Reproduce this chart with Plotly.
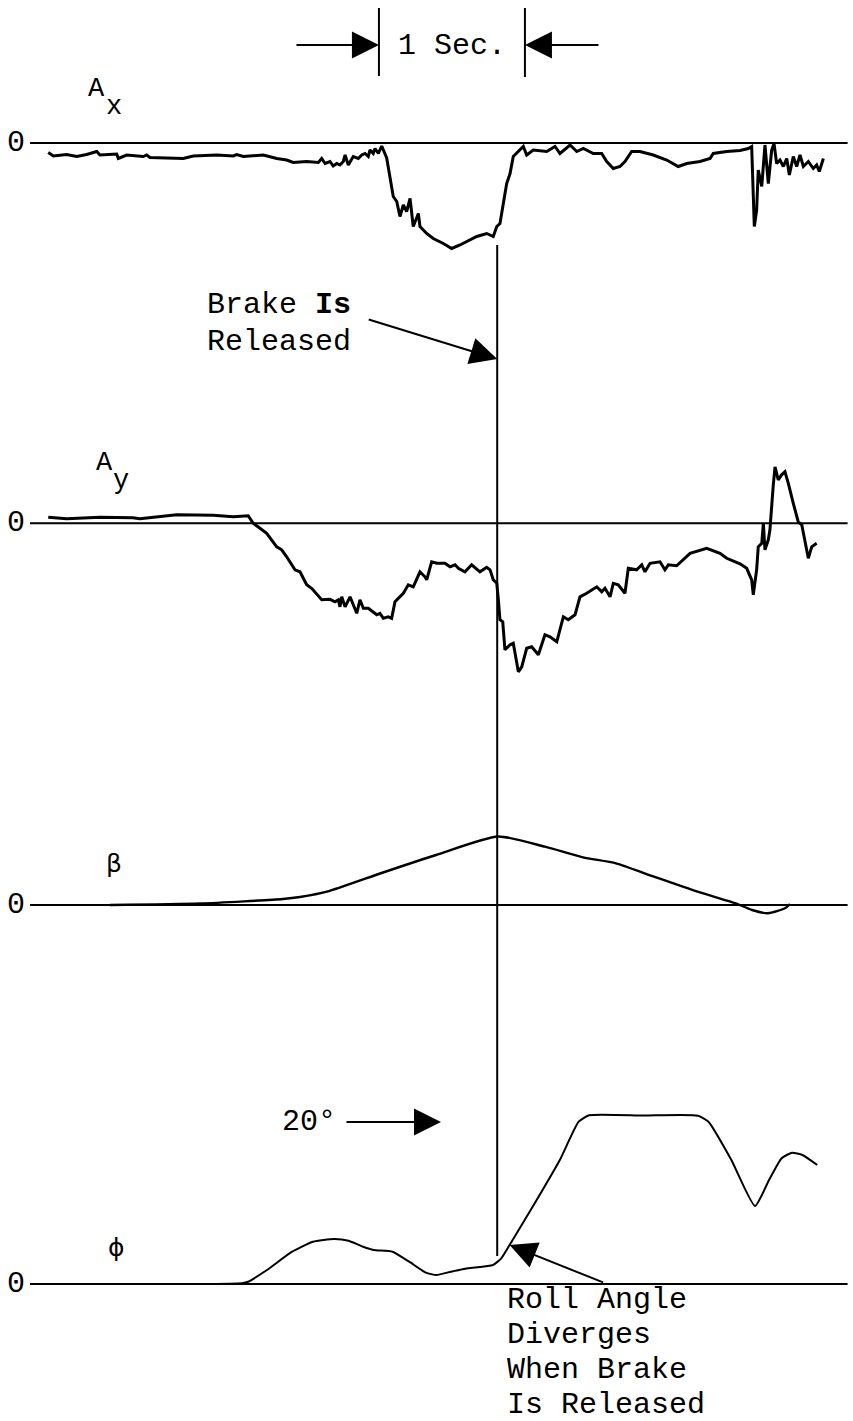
import plotly.graph_objects as go

# ---------------------------------------------------------------------------
# Recorded channels (time in seconds)
# ---------------------------------------------------------------------------
# Longitudinal acceleration A_x (g)
AX_T = [0.125, 0.160, 0.251, 0.320, 0.388, 0.457, 0.479, 0.594, 0.605, 0.662,
        0.776, 0.799, 0.822, 1.050, 1.118, 1.279, 1.392, 1.416, 1.461, 1.598,
        1.690, 1.758, 1.803, 1.895, 1.975, 1.998, 2.021, 2.055, 2.077, 2.101,
        2.123, 2.146, 2.158, 2.180, 2.214, 2.249, 2.272, 2.295, 2.317, 2.329,
        2.351, 2.363, 2.386, 2.409, 2.443, 2.488, 2.512, 2.534, 2.557, 2.580,
        2.603, 2.625, 2.660, 2.671, 2.717, 2.762, 2.831, 2.888, 2.945, 3.014,
        3.060, 3.128, 3.173, 3.197, 3.219, 3.242, 3.265, 3.288, 3.310, 3.379,
        3.402, 3.447, 3.539, 3.596, 3.630, 3.699, 3.745, 3.790, 3.858, 3.916,
        3.950, 3.995, 4.041, 4.075, 4.121, 4.178, 4.269, 4.361, 4.440, 4.498,
        4.589, 4.658, 4.680, 4.772, 4.863, 4.920, 4.943, 4.961, 4.977, 4.988,
        5.012, 5.034, 5.057, 5.080, 5.096, 5.114, 5.137, 5.160, 5.183, 5.201,
        5.228, 5.251, 5.274, 5.297, 5.331, 5.365, 5.388, 5.406, 5.434]
AX_G = [-0.019, -0.026, -0.023, -0.027, -0.023, -0.017, -0.024, -0.022, -0.031, -0.024,
        -0.027, -0.024, -0.029, -0.031, -0.026, -0.024, -0.026, -0.023, -0.027, -0.024,
        -0.031, -0.034, -0.039, -0.037, -0.039, -0.031, -0.041, -0.037, -0.046, -0.041,
        -0.044, -0.037, -0.024, -0.044, -0.027, -0.031, -0.024, -0.021, -0.027, -0.014,
        -0.021, -0.011, -0.021, -0.006, -0.030, -0.107, -0.117, -0.147, -0.124, -0.137,
        -0.111, -0.167, -0.141, -0.167, -0.181, -0.191, -0.201, -0.211, -0.204, -0.194,
        -0.187, -0.181, -0.187, -0.167, -0.161, -0.121, -0.081, -0.061, -0.027, -0.007,
        -0.024, -0.014, -0.017, -0.007, -0.021, -0.004, -0.017, -0.011, -0.021, -0.021,
        -0.037, -0.051, -0.047, -0.037, -0.017, -0.017, -0.024, -0.034, -0.047, -0.041,
        -0.037, -0.031, -0.021, -0.017, -0.015, -0.011, -0.007, -0.167, -0.134, -0.054,
        -0.087, -0.004, -0.081, -0.014, -0.001, -0.041, -0.034, -0.047, -0.031, -0.064,
        -0.027, -0.047, -0.024, -0.047, -0.037, -0.051, -0.044, -0.057, -0.031]

# Lateral acceleration A_y (g)
AY_T = [0.125, 0.251, 0.479, 0.705, 0.753, 1.005, 1.255, 1.392, 1.495, 1.529,
        1.575, 1.621, 1.690, 1.724, 1.758, 1.815, 1.849, 1.895, 1.929, 1.998,
        2.055, 2.089, 2.112, 2.123, 2.135, 2.158, 2.192, 2.238, 2.260, 2.283,
        2.317, 2.375, 2.397, 2.420, 2.454, 2.477, 2.500, 2.557, 2.591, 2.625,
        2.671, 2.705, 2.717, 2.751, 2.786, 2.842, 2.877, 2.911, 2.934, 2.979,
        3.025, 3.082, 3.128, 3.151, 3.173, 3.197, 3.208, 3.219, 3.238, 3.253,
        3.288, 3.310, 3.345, 3.368, 3.402, 3.436, 3.482, 3.527, 3.562, 3.608,
        3.653, 3.687, 3.733, 3.767, 3.813, 3.882, 3.916, 3.938, 3.973, 3.995,
        4.029, 4.075, 4.098, 4.155, 4.190, 4.212, 4.247, 4.315, 4.349, 4.372,
        4.429, 4.521, 4.635, 4.726, 4.772, 4.863, 4.909, 4.943, 4.954, 4.977,
        4.988, 5.012, 5.023, 5.034, 5.057, 5.068, 5.091, 5.103, 5.125, 5.148,
        5.171, 5.194, 5.228, 5.262, 5.286, 5.331, 5.354, 5.388]
AY_G = [0.012, 0.009, 0.012, 0.011, 0.009, 0.017, 0.016, 0.013, 0.015, 0.000,
        -0.010, -0.020, -0.047, -0.053, -0.067, -0.093, -0.097, -0.123, -0.130, -0.153,
        -0.152, -0.157, -0.153, -0.167, -0.147, -0.167, -0.147, -0.180, -0.153, -0.170,
        -0.170, -0.183, -0.180, -0.190, -0.187, -0.190, -0.157, -0.140, -0.123, -0.127,
        -0.097, -0.107, -0.113, -0.077, -0.080, -0.080, -0.087, -0.083, -0.090, -0.097,
        -0.083, -0.097, -0.088, -0.093, -0.113, -0.120, -0.153, -0.193, -0.197, -0.253,
        -0.243, -0.240, -0.297, -0.287, -0.250, -0.247, -0.263, -0.223, -0.227, -0.237,
        -0.187, -0.193, -0.183, -0.147, -0.140, -0.127, -0.137, -0.130, -0.147, -0.120,
        -0.123, -0.140, -0.090, -0.093, -0.083, -0.097, -0.080, -0.077, -0.093, -0.083,
        -0.085, -0.060, -0.050, -0.060, -0.070, -0.081, -0.090, -0.113, -0.143, -0.093,
        -0.047, -0.040, 0.000, -0.053, -0.033, -0.013, 0.077, 0.113, 0.087, 0.097,
        0.103, 0.080, 0.040, 0.003, -0.003, -0.070, -0.047, -0.040]

# Sideslip angle beta (deg)
BETA_T = [0.548, 1.164, 1.733, 1.849, 2.034, 2.408, 2.781, 3.205, 3.527, 3.788,
          4.014, 4.274, 4.572, 4.834, 4.945, 5.055, 5.171, 5.205]
BETA_DEG = [0.0, 0.15, 0.6, 0.8, 1.33, 3.2, 5.0, 6.85, 5.83, 4.77,
            4.17, 2.83, 1.33, 0.17, -0.5, -0.83, -0.33, 0.1]

# Roll angle phi (deg)
PHI_T = [1.164, 1.451, 1.494, 1.623, 1.795, 1.938, 2.082, 2.182, 2.282, 2.353,
         2.483, 2.597, 2.712, 2.784, 2.884, 2.999, 3.171, 3.228, 3.285, 3.457,
         3.629, 3.758, 3.829, 4.200, 4.575, 4.647, 4.804, 4.966, 5.062, 5.148,
         5.219, 5.291, 5.392]
PHI_DEG = [0.0, 0.1, 0.28, 1.73, 3.99, 5.22, 5.56, 5.35, 4.60, 4.20,
           3.99, 2.75, 1.40, 1.11, 1.52, 1.94, 2.35, 3.17, 4.81, 9.96,
           15.31, 20.04, 20.83, 20.80, 20.78, 20.04, 15.31, 9.63, 12.84, 15.52,
           16.21, 15.93, 14.69]

BRAKE_RELEASE_S = 3.20      # moment the brake is let go
SCALE_BAR_START_S = 2.39    # left edge of the 1-second scale bar
ROLL_REF_DEG = 20           # roll reference arrow level
ZERO_LINE_T = [0.0, 5.6]    # extent of each channel's zero line

# ---------------------------------------------------------------------------
# Page geometry
# ---------------------------------------------------------------------------
W, H = 853, 1421
PX_PER_S = 146
T0_PX = 30

# zero-line row (px from top) and pixels per engineering unit for each strip
STRIPS = {
    "ax": (143.0, 500.0),
    "ay": (523.3, 500.0),
    "beta": (905.0, 10.0),
    "phi": (1284.0, 8.1),
}


def yrange(zero_px, px_per_unit):
    return [-(H - zero_px) / px_per_unit, zero_px / px_per_unit]


def py(row):
    """Pixel row (from top) to paper fraction."""
    return 1 - row / H


def px_t(col):
    """Pixel column to time on the x axis."""
    return (col - T0_PX) / PX_PER_S


FONT = "Liberation Mono"
INK = "black"

fig = go.Figure()

axis_ids = {"ax": "y", "ay": "y2", "beta": "y3", "phi": "y4"}

# zero lines
for key, yid in axis_ids.items():
    fig.add_trace(go.Scatter(x=ZERO_LINE_T, y=[0, 0], mode="lines", yaxis=yid,
                             line=dict(color=INK, width=2), hoverinfo="skip"))

fig.add_trace(go.Scatter(x=AX_T, y=AX_G, mode="lines", yaxis="y",
                         line=dict(color=INK, width=3), name="A_x"))
fig.add_trace(go.Scatter(x=AY_T, y=AY_G, mode="lines", yaxis="y2",
                         line=dict(color=INK, width=3), name="A_y"))
fig.add_trace(go.Scatter(x=BETA_T, y=BETA_DEG, mode="lines", yaxis="y3",
                         line=dict(color=INK, width=2.4, shape="spline", smoothing=0.6),
                         name="beta"))
fig.add_trace(go.Scatter(x=PHI_T, y=PHI_DEG, mode="lines", yaxis="y4",
                         line=dict(color=INK, width=2.0, shape="spline", smoothing=0.5),
                         name="phi"))

shapes = [
    # brake release marker
    dict(type="line", xref="x", yref="paper", x0=BRAKE_RELEASE_S, x1=BRAKE_RELEASE_S,
         y0=py(1256), y1=py(245), line=dict(color=INK, width=2)),
    # 1-second scale bar ends
    dict(type="line", xref="x", yref="paper", x0=SCALE_BAR_START_S, x1=SCALE_BAR_START_S,
         y0=py(76), y1=py(8), line=dict(color=INK, width=2)),
    dict(type="line", xref="x", yref="paper", x0=SCALE_BAR_START_S + 1, x1=SCALE_BAR_START_S + 1,
         y0=py(77), y1=py(8), line=dict(color=INK, width=2)),
]

ann = []


def text(s, x, y, size=30, xanchor="left", xref="paper", yref="paper", family=FONT):
    ann.append(dict(text=s, x=x, y=y, xref=xref, yref=yref, xanchor=xanchor,
                    yanchor="middle", showarrow=False,
                    font=dict(family=family, size=size, color=INK)))


def arrow(x, y, ax, ay, xref="x", yref="paper"):
    ann.append(dict(text="", x=x, y=y, xref=xref, yref=yref, ax=ax, ay=ay,
                    axref="pixel", ayref="pixel", showarrow=True, arrowhead=2,
                    arrowsize=2.7, arrowwidth=2, arrowcolor=INK, standoff=0))


# scale bar
text("1 Sec.", SCALE_BAR_START_S + 0.5, py(46), xanchor="center", xref="x")
arrow(SCALE_BAR_START_S, py(45), -84, 0)
arrow(SCALE_BAR_START_S + 1, py(45), 75, 0)

# channel labels
text("A", 96 / W, py(89), size=27, xanchor="center")
text("x", 114 / W, py(107), size=27, xanchor="center")
text("A", 104.5 / W, py(463), size=27, xanchor="center")
text("y", 121 / W, py(481), size=27, xanchor="center")
text("β", 114 / W, py(863), size=25, xanchor="center", family="DejaVu Sans")
text("ϕ", 117 / W, py(1247), size=25, xanchor="center", family="DejaVu Sans")

for yid in axis_ids.values():
    text("0", 16 / W, 0, size=30, xanchor="center", yref=yid)

# brake annotation
text("Brake <b>Is</b>", 205 / W, py(305))
text("Released", 205 / W, py(342))
arrow(BRAKE_RELEASE_S, py(359), -130, -40)

# roll reference
text("20°", 338 / W, py(1122), xanchor="right")
arrow(px_t(441), ROLL_REF_DEG, -96, 0, yref="y4")

# roll divergence note
arrow(PHI_T[18], PHI_DEG[18], 95, 38, yref="y4")
for i, line in enumerate(["Roll Angle", "Diverges", "When Brake", "Is Released"]):
    text(line, 505 / W, py(1300 + 35 * i))

hidden = dict(visible=False, fixedrange=True)
fig.update_layout(
    width=W, height=H,
    margin=dict(l=0, r=0, t=0, b=0),
    paper_bgcolor="white", plot_bgcolor="white",
    showlegend=False,
    xaxis=dict(range=[px_t(0), px_t(W)], domain=[0, 1], **hidden),
    yaxis=dict(range=yrange(*STRIPS["ax"]), domain=[0, 1], **hidden),
    yaxis2=dict(range=yrange(*STRIPS["ay"]), overlaying="y", **hidden),
    yaxis3=dict(range=yrange(*STRIPS["beta"]), overlaying="y", **hidden),
    yaxis4=dict(range=yrange(*STRIPS["phi"]), overlaying="y", **hidden),
    shapes=shapes,
    annotations=ann,
)

fig.write_html("out.html")
